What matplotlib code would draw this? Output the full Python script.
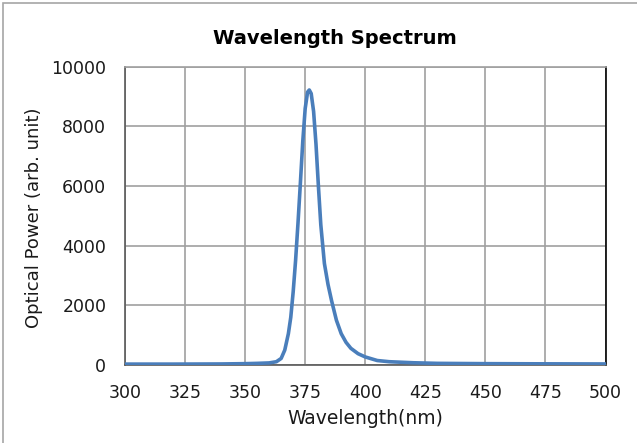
import numpy as np
import matplotlib.pyplot as plt
from matplotlib.patches import Rectangle

# spectrum
wavelength = [300, 320, 340, 350, 355, 360, 363, 365, 366.5, 368, 369, 370,
              371, 372, 373, 374, 375, 376, 376.7, 377.5, 378.5, 379.5, 380.5,
              381.5, 383, 384.5, 386, 388, 390, 392, 394, 397, 400, 405, 410,
              420, 430, 450, 470, 500]
power = [30, 30, 35, 45, 55, 70, 110, 220, 500, 1050, 1600, 2450,
         3500, 4750, 6100, 7500, 8600, 9150, 9220, 9100, 8500, 7400, 6000,
         4700, 3400, 2700, 2150, 1500, 1050, 760, 560, 380, 270, 150, 110,
         75, 55, 45, 40, 35]

xticks = [300, 325, 350, 375, 400, 425, 450, 475, 500]
yticks = [0, 2000, 4000, 6000, 8000, 10000]

params = {
    "font.family": "DejaVu Sans",
    "font.size": 12,
    "xtick.labelsize": 12.5,
    "ytick.labelsize": 12.5,
}
plt.rcParams.update(params)

W, H = 637, 443
fig = plt.figure(figsize=(W / 100, H / 100), dpi=100)
ax = fig.add_axes([125 / W, 1 - 365 / H, (605.5 - 125) / W, (365 - 66.7) / H])

# outer chart border
fig.patches.append(Rectangle((3 / W, -0.01), 1.0, 1 - 3 / H + 0.01,
                             transform=fig.transFigure, fill=False,
                             edgecolor="#a6a6a6", lw=1.2))

ax.plot(wavelength, power, color="#4A7EBB", lw=2.6, solid_capstyle="round",
        zorder=3)

ax.set_xlim(300, 500)
ax.set_ylim(0, 10000)
ax.set_xticks(xticks)
ax.set_yticks(yticks)
ax.grid(True, color="#a0a0a0", lw=1.2)
ax.set_axisbelow(True)
ax.tick_params(length=0, colors="#1a1a1a")
ax.tick_params(axis="x", pad=14)
ax.tick_params(axis="y", pad=13.5)

ax.spines["left"].set_color("#595959")
ax.spines["bottom"].set_color("#595959")
ax.spines["top"].set_color("#a0a0a0")
ax.spines["right"].set_color("#000000")
for s in ax.spines.values():
    s.set_linewidth(1.2)

fig.text(365 / W, 1 - 419 / H, "Wavelength(nm)", fontsize=13.5,
         ha="center", va="center", color="#1a1a1a")
fig.text(34 / W, 1 - 218 / H, "Optical Power (arb. unit)", fontsize=13,
         rotation=90, ha="center", va="center", color="#1a1a1a")
fig.text(335 / W, 1 - 38 / H, "Wavelength Spectrum", fontsize=14,
         fontweight="bold", ha="center", va="center")

plt.savefig("out.png", dpi=100)
